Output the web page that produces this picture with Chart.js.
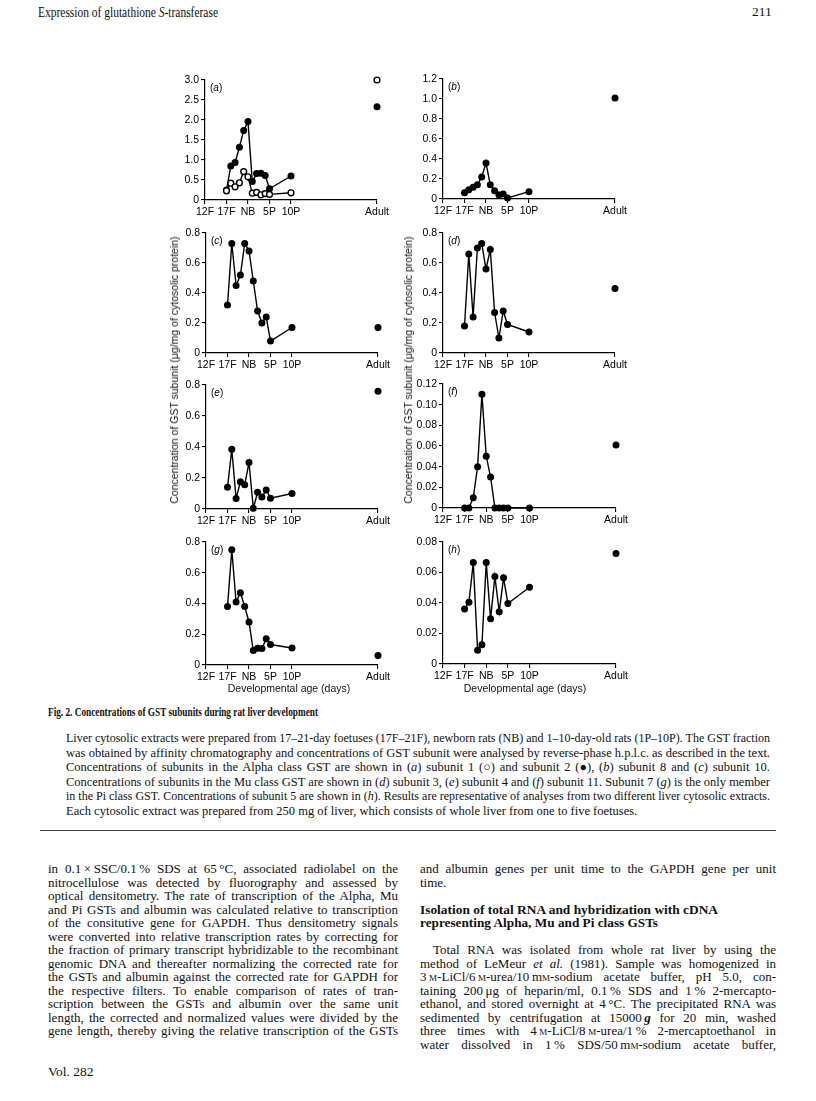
<!DOCTYPE html>
<html>
<head>
<meta charset="utf-8">
<script src="https://cdn.jsdelivr.net/npm/chart.js@4.4.0/dist/chart.umd.min.js"></script>
<style>
body{margin:0;background:#fff;}
#page{position:relative;width:816px;height:1101px;overflow:hidden;font-family:"Liberation Serif","Times New Roman",serif;color:#111;}
.ln{position:absolute;white-space:nowrap;line-height:14px;transform-origin:0 50%;}
canvas{position:absolute;}
.plab{position:absolute;font:10px "Liberation Sans",Arial,sans-serif;color:#000;line-height:10px;}
.ytitle{position:absolute;font:10.5px "Liberation Sans",Arial,sans-serif;color:#111;white-space:nowrap;transform:translate(-50%,-50%) rotate(-90deg);}
.xtitle{position:absolute;font:10.5px "Liberation Sans",Arial,sans-serif;color:#111;white-space:nowrap;transform:translate(-50%,-50%);}
.sc{font-variant:small-caps;}
</style>
</head>
<body>
<div id="page"></div>
<script>
// developmental ages, x position in "days" from 12F
const ages = ['17F','18F','19F','20F','21F','NB','1P','2P','3P','4P','5P','10P','Adult'];
const agePos = [5, 6, 7, 8, 9, 10, 11, 12, 13, 14, 15, 20, 40];
const tickLabels = ['12F','17F','NB','5P','10P','Adult'];
const tickPos = [0, 5, 10, 15, 20, 40];

// ug/mg cytosolic protein, last value = Adult
const subunit1 = [0.23, 0.42, 0.33, 0.43, 0.71, 0.58, 0.17, 0.19, 0.13, 0.16, 0.14, 0.18, 3.0];
const subunit2 = [0.25, 0.85, 0.94, 1.32, 1.74, 1.96, 0.46, 0.66, 0.67, 0.61, 0.28, 0.60, 2.33];
const subunit8 = [0.063, 0.093, 0.117, 0.143, 0.22, 0.36, 0.143, 0.083, 0.043, 0.05, 0.01, 0.073, 1.01];
const subunit10 = [0.32, 0.73, 0.45, 0.52, 0.73, 0.68, 0.48, 0.28, 0.20, 0.24, 0.08, 0.17, 0.17];
const subunit3 = [0.18, 0.66, 0.24, 0.70, 0.73, 0.56, 0.69, 0.27, 0.10, 0.28, 0.19, 0.14, 0.43];
const subunit4 = [0.14, 0.385, 0.067, 0.176, 0.157, 0.30, 0.005, 0.108, 0.077, 0.123, 0.069, 0.10, 0.76];
const subunit11 = [0, 0, 0.010, 0.040, 0.110, 0.050, 0.030, 0, 0, 0, 0, 0, 0.061];
const subunit7 = [0.38, 0.75, 0.41, 0.47, 0.38, 0.28, 0.094, 0.109, 0.107, 0.17, 0.133, 0.111, 0.061];
const subunit5 = [0.036, 0.0405, 0.0665, 0.009, 0.0126, 0.0665, 0.0296, 0.0573, 0.0342, 0.0565, 0.0397, 0.0503, 0.0724];

const panels = [
  {id:'a', series:[{v:subunit1, open:true}, {v:subunit2}], yMax:3.0, step:0.5, dec:1},
  {id:'b', series:[{v:subunit8}], yMax:1.2, step:0.2, dec:1},
  {id:'c', series:[{v:subunit10}], yMax:0.8, step:0.2, dec:1},
  {id:'d', series:[{v:subunit3}], yMax:0.8, step:0.2, dec:1},
  {id:'e', series:[{v:subunit4}], yMax:0.8, step:0.2, dec:1},
  {id:'f', series:[{v:subunit11}], yMax:0.12, step:0.02, dec:2},
  {id:'g', series:[{v:subunit7}], yMax:0.8, step:0.2, dec:1},
  {id:'h', series:[{v:subunit5}], yMax:0.08, step:0.02, dec:2}
];

// plot area boxes on the page
const boxes = {
  a:{ax:205, right:377, top:80, bottom:200},
  b:{ax:443, right:615, top:79, bottom:199},
  c:{ax:206, right:378, top:233, bottom:353},
  d:{ax:443, right:615, top:233, bottom:353},
  e:{ax:206, right:378, top:385, bottom:509},
  f:{ax:443, right:616, top:384, bottom:508},
  g:{ax:206, right:378, top:542, bottom:665},
  h:{ax:443, right:616, top:542, bottom:664}
};

const page = document.getElementById('page');
const YW = 50, PT = 14, PR = 24, XH = 30;
const tickFont = {family:'"Liberation Sans", Arial, sans-serif', size:10.5};

panels.forEach(p => {
  const b = boxes[p.id];
  const cv = document.createElement('canvas');
  const w = b.right - b.ax + YW + PR, h = b.bottom - b.top + PT + XH;
  cv.width = w; cv.height = h;
  cv.style.left = (b.ax - YW) + 'px'; cv.style.top = (b.top - PT) + 'px';
  cv.style.width = w + 'px'; cv.style.height = h + 'px';
  page.appendChild(cv);

  const datasets = [];
  p.series.forEach(s => {
    const pts = agePos.map((x, i) => ({x: x, y: s.v[i]}));
    const style = {
      borderColor:'#000', borderWidth:1.4,
      pointRadius: s.open ? 2.9 : 3.5,
      pointBackgroundColor: s.open ? '#fff' : '#000',
      pointBorderColor:'#000', pointBorderWidth: s.open ? 1.4 : 0,
      clip:false, order: s.open ? 0 : 1
    };
    datasets.push(Object.assign({data: pts.slice(0, 12), showLine:true}, style));
    datasets.push(Object.assign({data: pts.slice(12), showLine:false}, style));
  });

  const axisGrid = {display:true, drawOnChartArea:false, drawTicks:true, tickLength:4, color:'#000', lineWidth:1.1};
  new Chart(cv, {
    type:'scatter',
    data:{datasets},
    options:{
      responsive:false, animation:false, devicePixelRatio:1,
      layout:{padding:{top:PT, right:PR, left:0, bottom:0}},
      plugins:{legend:{display:false}, tooltip:{enabled:false}},
      scales:{
        x:{type:'linear', min:0, max:40,
          afterBuildTicks: s => { s.ticks = tickPos.map(v => ({value:v})); },
          afterFit: s => { s.height = XH; },
          ticks:{autoSkip:false, maxRotation:0, padding:2, color:'#000', font:tickFont,
            callback:(v, i) => tickLabels[i]},
          grid:axisGrid, border:{color:'#000', width:1.2}},
        y:{min:0, max:p.yMax,
          afterFit: s => { s.width = YW; },
          ticks:{stepSize:p.step, padding:2, color:'#000', font:tickFont,
            callback: v => Math.abs(v) < 1e-9 ? '0' : v.toFixed(p.dec)},
          grid:axisGrid, border:{color:'#000', width:1.2}}
      }
    }
  });

  const lab = document.createElement('div');
  lab.className = 'plab';
  lab.innerHTML = '(<i>' + p.id + '</i>)';
  lab.style.left = (b.ax + 5) + 'px';
  lab.style.top = (b.top + 3) + 'px';
  page.appendChild(lab);
});

function addDiv(cls, html, x, y) {
  const d = document.createElement('div');
  d.className = cls; d.innerHTML = html;
  d.style.left = x + 'px'; d.style.top = y + 'px';
  page.appendChild(d);
  return d;
}
const yTitle = 'Concentration of GST subunit (\u03bcg/mg of cytosolic protein)';
addDiv('ytitle', yTitle, 174, 370);
addDiv('ytitle', yTitle, 408, 370);
addDiv('xtitle', 'Developmental age (days)', 289, 688);
addDiv('xtitle', 'Developmental age (days)', 525, 688);

// page text
function line(html, x, yc, opt) {
  const d = document.createElement('div');
  d.className = 'ln';
  d.innerHTML = html;
  d.style.left = x + 'px';
  d.style.top = (yc - 7) + 'px';
  d.style.fontSize = (opt.size || 12) + 'px';
  if (opt.weight) d.style.fontWeight = opt.weight;
  page.appendChild(d);
  const nat = d.getBoundingClientRect().width;
  if (opt.width) {
    const spaces = (d.textContent.match(/ /g) || []).length;
    if (opt.justify && nat < opt.width && spaces) {
      d.style.wordSpacing = ((opt.width - nat) / spaces) + 'px';
    } else if (opt.justify || opt.fit || nat > opt.width) {
      d.style.transform = 'scaleX(' + (opt.width / nat) + ')';
    }
  }
  return d;
}

line('Expression of glutathione <i>S</i>-transferase', 38, 13, {size:14, width:180, fit:true});
line('211', 752, 12, {size:13.5});

line('<b>Fig. 2. Concentrations of GST subunits during rat liver development</b>', 48, 712, {size:12.5, width:270, fit:true});

const caption = [
  'Liver cytosolic extracts were prepared from 17\u201321-day foetuses (17F\u201321F), newborn rats (NB) and 1\u201310-day-old rats (1P\u201310P). The GST fraction',
  'was obtained by affinity chromatography and concentrations of GST subunit were analysed by reverse-phase h.p.l.c. as described in the text.',
  'Concentrations of subunits in the Alpha class GST are shown in (<i>a</i>) subunit 1 (\u25cb) and subunit 2 (\u25cf), (<i>b</i>) subunit 8 and (<i>c</i>) subunit 10.',
  'Concentrations of subunits in the Mu class GST are shown in (<i>d</i>) subunit 3, (<i>e</i>) subunit 4 and (<i>f</i>) subunit 11. Subunit 7 (<i>g</i>) is the only member',
  'in the Pi class GST. Concentrations of subunit 5 are shown in (<i>h</i>). Results are representative of analyses from two different liver cytosolic extracts.',
  'Each cytosolic extract was prepared from 250 mg of liver, which consists of whole liver from one to five foetuses.'
];
caption.forEach((t, i) => {
  const last = i === caption.length - 1;
  line(t, 66, 738 + i * 14.5, {size:12.5, width: last ? 0 : 704, justify: !last});
});

const rule = document.createElement('div');
rule.style.cssText = 'position:absolute;left:40px;top:830px;width:736px;height:1px;background:#444;';
page.appendChild(rule);

const leftCol = [
  'in 0.1\u2009\u00d7\u2009SSC/0.1\u2009% SDS at 65\u2009\u00b0C, associated radiolabel on the',
  'nitrocellulose was detected by fluorography and assessed by',
  'optical densitometry. The rate of transcription of the Alpha, Mu',
  'and Pi GSTs and albumin was calculated relative to transcription',
  'of the consitutive gene for GAPDH. Thus densitometry signals',
  'were converted into relative transcription rates by correcting for',
  'the fraction of primary transcript hybridizable to the recombinant',
  'genomic DNA and thereafter normalizing the corrected rate for',
  'the GSTs and albumin against the corrected rate for GAPDH for',
  'the respective filters. To enable comparison of rates of tran-',
  'scription between the GSTs and albumin over the same unit',
  'length, the corrected and normalized values were divided by the',
  'gene length, thereby giving the relative transcription of the GSTs'
];
const LS = 13.5, Y0 = 869, BS = 13;
leftCol.forEach((t, i) => line(t, 48, Y0 + i * LS, {size:BS, width:350, justify:true}));

line('and albumin genes per unit time to the GAPDH gene per unit', 420, Y0, {size:BS, width:356, justify:true});
line('time.', 420, Y0 + LS, {size:BS});
line('<b>Isolation of total RNA and hybridization with cDNA</b>', 420, Y0 + 3 * LS, {size:BS, width:298, fit:true});
line('<b>representing Alpha, Mu and Pi class GSTs</b>', 420, Y0 + 4 * LS, {size:BS, width:238, fit:true});
const rightCol = [
  'Total RNA was isolated from whole rat liver by using the',
  'method of LeMeur <i>et al.</i> (1981). Sample was homogenized in',
  '3\u2009<span class="sc">m</span>-LiCl/6\u2009<span class="sc">m</span>-urea/10\u2009m<span class="sc">m</span>-sodium acetate buffer, pH 5.0, con-',
  'taining 200\u2009\u03bcg of heparin/ml, 0.1\u2009% SDS and 1\u2009% 2-mercapto-',
  'ethanol, and stored overnight at 4\u2009\u00b0C. The precipitated RNA was',
  'sedimented by centrifugation at 15000\u2009<b><i>g</i></b> for 20 min, washed',
  'three times with 4\u2009<span class="sc">m</span>-LiCl/8\u2009<span class="sc">m</span>-urea/1\u2009% 2-mercaptoethanol in',
  'water dissolved in 1\u2009% SDS/50\u2009m<span class="sc">m</span>-sodium acetate buffer,'
];
rightCol.forEach((t, i) => {
  const x = i === 0 ? 433 : 420;
  line(t, x, Y0 + (6 + i) * LS, {size:BS, width: 776 - x, justify:true});
});

line('Vol. 282', 48, 1072, {size:13.5});
</script>
</body>
</html>
